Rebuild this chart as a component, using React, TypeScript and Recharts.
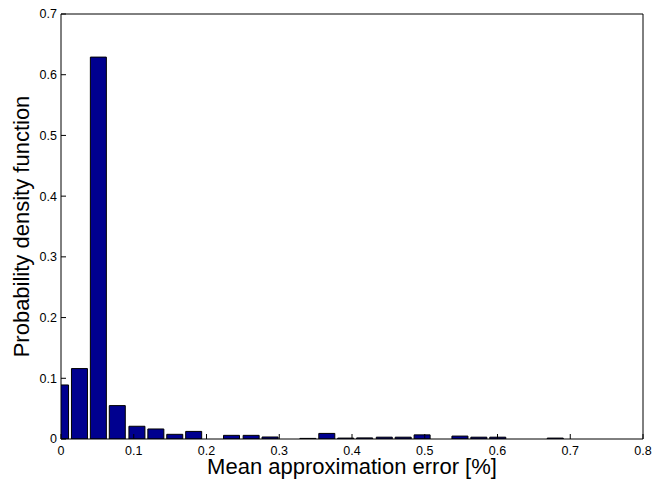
import React from 'react';
import { BarChart, Bar, XAxis, YAxis } from 'recharts';

const binCenters = [
  0, 0.026, 0.052, 0.078, 0.105, 0.131, 0.157, 0.183, 0.209, 0.235,
  0.262, 0.288, 0.314, 0.340, 0.366, 0.392, 0.418, 0.445, 0.471, 0.497,
  0.523, 0.549, 0.575, 0.601, 0.628, 0.654, 0.680,
];
const densities = [
  0.089, 0.116, 0.629, 0.055, 0.021, 0.0165, 0.0077, 0.0125, 0, 0.006,
  0.006, 0.0033, 0, 0.001, 0.0092, 0.0015, 0.0018, 0.003, 0.003, 0.0068,
  0, 0.0048, 0.003, 0.003, 0, 0, 0.0015,
];
const xTicks = [0, 0.1, 0.2, 0.3, 0.4, 0.5, 0.6, 0.7, 0.8];
const yTicks = [0, 0.1, 0.2, 0.3, 0.4, 0.5, 0.6, 0.7];
const xLabel = 'Mean approximation error [%]';
const yLabel = 'Probability density function';

const data = binCenters.map((x, i) => ({ x, y: densities[i] }));

const FONT = '"Liberation Sans", Arial, Helvetica, sans-serif';

const renderXLabel = (props: any) => {
  const vb = props.viewBox;
  return (
    <text
      x={vb.x + vb.width / 2}
      y={vb.y + 35}
      textAnchor="middle"
      fontSize={22}
      fontFamily={FONT}
      fill="#000"
    >
      {xLabel}
    </text>
  );
};

const renderYLabel = (props: any) => {
  const vb = props.viewBox;
  const cx = 20.5;
  const cy = vb.y + vb.height / 2;
  return (
    <text
      x={cx}
      y={cy}
      transform={`rotate(-90, ${cx}, ${cy})`}
      textAnchor="middle"
      fontSize={22}
      fontFamily={FONT}
      fill="#000"
    >
      {yLabel}
    </text>
  );
};

const tickStyle = { fontSize: 12.5, fontFamily: FONT, fill: '#000' };
const axisLine = { stroke: '#000', strokeWidth: 1 };
const tickLine = { stroke: '#000', strokeWidth: 1 };

export default function App() {
  return (
    <div style={{ width: 654, height: 472 }}>
      <BarChart
        width={654}
        height={472}
        data={data}
        margin={{ top: 5, right: 0, bottom: 0, left: 0 }}
      >
        <XAxis
          dataKey="x"
          type="number"
          domain={[0, 0.8]}
          allowDataOverflow
          ticks={xTicks}
          interval={0}
          height={41}
          tickSize={-5}
          tickMargin={12}
          tick={tickStyle}
          axisLine={axisLine}
          tickLine={tickLine}
          tickFormatter={(v: number) => String(v)}
          label={renderXLabel}
        />
        <XAxis
          xAxisId="top"
          orientation="top"
          dataKey="x"
          type="number"
          domain={[0, 0.8]}
          allowDataOverflow
          ticks={xTicks}
          interval={0}
          height={1}
          tickSize={-5}
          tick={false}
          axisLine={axisLine}
          tickLine={tickLine}
        />
        <YAxis
          type="number"
          domain={[0, 0.7]}
          allowDataOverflow
          ticks={yTicks}
          interval={0}
          width={53}
          tickSize={-5}
          tickMargin={9}
          tick={tickStyle}
          axisLine={axisLine}
          tickLine={tickLine}
          tickFormatter={(v: number) => String(v)}
          label={renderYLabel}
        />
        <YAxis
          yAxisId="right"
          orientation="right"
          type="number"
          domain={[0, 0.7]}
          allowDataOverflow
          ticks={yTicks}
          interval={0}
          width={19}
          tickSize={-5}
          tick={false}
          axisLine={axisLine}
          tickLine={tickLine}
        />
        <Bar
          dataKey="y"
          fill="#00008F"
          stroke="#000"
          strokeWidth={1}
          barSize={16}
          isAnimationActive={false}
        />
      </BarChart>
    </div>
  );
}
